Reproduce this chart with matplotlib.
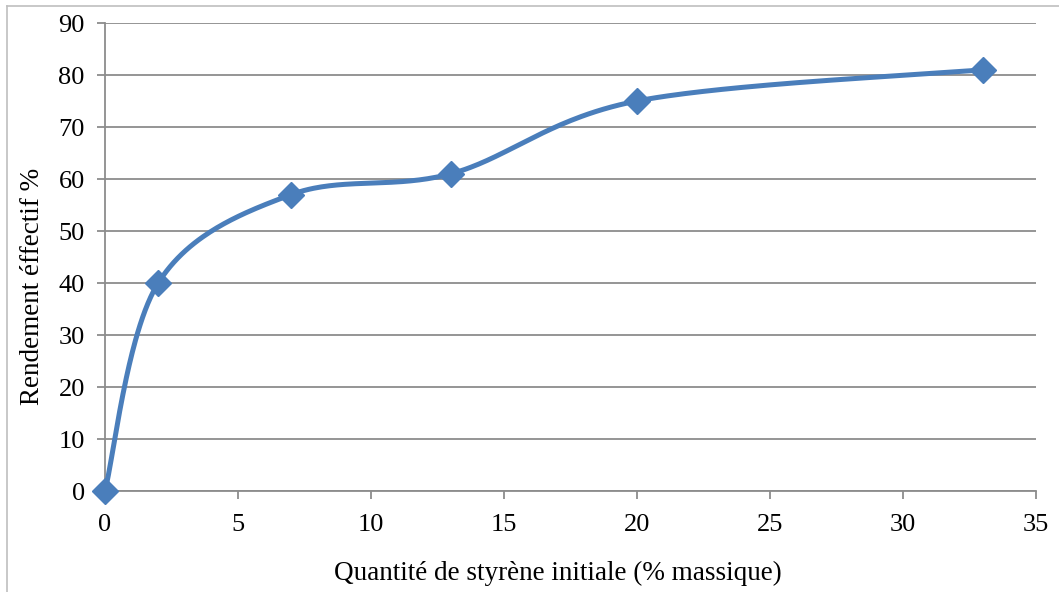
import numpy as np
import matplotlib.pyplot as plt
from matplotlib.lines import Line2D

# styrene content (% by mass) and effective yield (%)
styrene = [0, 2, 7, 13, 20, 33]
rendement = [0, 40, 57, 61, 75, 81]

x_ticks = [0, 5, 10, 15, 20, 25, 30, 35]
y_ticks = [0, 10, 20, 30, 40, 50, 60, 70, 80, 90]


def smooth_curve(x, y, n=60):
    # cubic Bezier through the points, Catmull-Rom style tangents
    p = np.column_stack([x, y]).astype(float)
    ext = np.vstack([p[0], p, p[-1]])
    t = np.linspace(0, 1, n)[:, None]
    out = []
    for i in range(len(p) - 1):
        p0, p3 = ext[i + 1], ext[i + 2]
        c1 = p0 + (ext[i + 2] - ext[i]) / 6
        c2 = p3 - (ext[i + 3] - ext[i + 1]) / 6
        seg = ((1 - t) ** 3) * p0 + 3 * ((1 - t) ** 2) * t * c1 \
            + 3 * (1 - t) * t ** 2 * c2 + t ** 3 * p3
        out.append(seg)
    curve = np.vstack(out)
    return curve[:, 0], curve[:, 1]


plt.rcParams['font.family'] = ['Liberation Serif', 'DejaVu Serif']

fig = plt.figure(figsize=(10.59, 5.92), dpi=100)
W, H = 1059, 592
ax = fig.add_axes([105 / W, (H - 491) / H, (1036 - 105) / W, (491 - 23) / H])

grid_col = '#8c8c8c'
blue = '#4a7ebb'

xs, ys = smooth_curve(styrene, rendement)
ax.plot(xs, ys, color=blue, lw=3.6, solid_capstyle='round', zorder=3, clip_on=False)
ax.plot(styrene, rendement, 'D', color=blue, ms=13, zorder=4, clip_on=False)

ax.set_xlim(0, 35)
ax.set_ylim(0, 90)
ax.set_xticks(x_ticks)
ax.set_yticks(y_ticks)
ax.yaxis.grid(True, color=grid_col, lw=1.3)
ax.set_axisbelow(True)

for s in ['top', 'right']:
    ax.spines[s].set_visible(False)
for s in ['left', 'bottom']:
    ax.spines[s].set_color(grid_col)
    ax.spines[s].set_linewidth(1.3)

ax.tick_params(axis='both', direction='out', length=5.5, width=1.3,
               color=grid_col, labelsize=19, labelcolor='black')
ax.tick_params(axis='x', pad=11)
ax.tick_params(axis='y', pad=9)

# axis titles placed in figure pixels
fig.text(558 / W, 1 - 573 / H, 'Quantité de styrène initiale (% massique)',
         fontsize=19.5, ha='center', va='center')
fig.text(33 / W, 1 - 286 / H, 'Rendement éffectif %', fontsize=19.5,
         rotation=90, ha='center', va='center')

# chart frame
frame = dict(color='#bfbfbf', lw=1.2, transform=fig.transFigure)
fig.add_artist(Line2D([7 / W, 7 / W], [0, 1 - 6 / H], **frame))
fig.add_artist(Line2D([7 / W, 1], [1 - 6 / H, 1 - 6 / H], **frame))

fig.savefig('out.png', dpi=100)
